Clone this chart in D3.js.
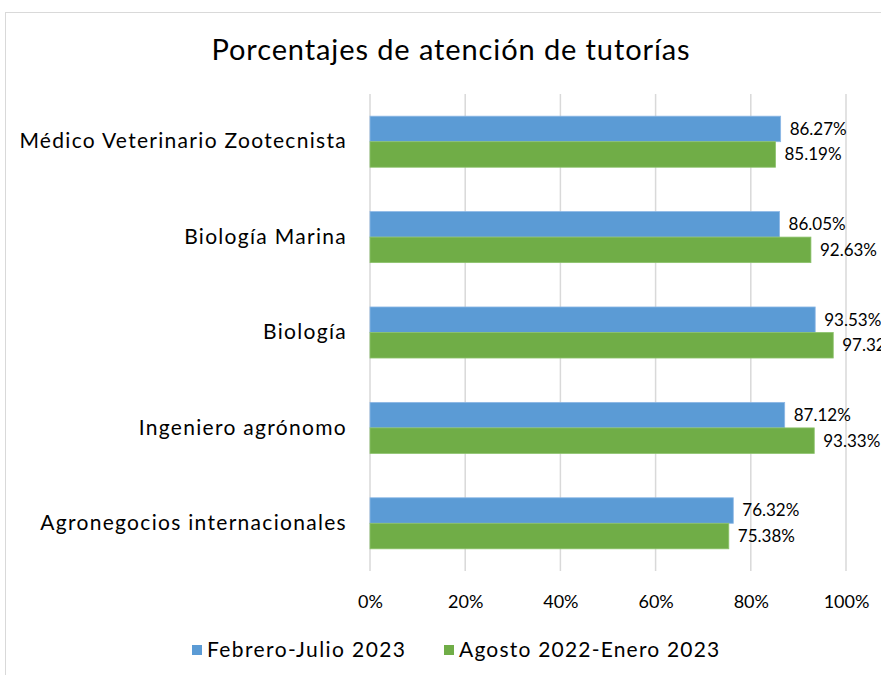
<!DOCTYPE html>
<html lang="es">
<head>
<meta charset="UTF-8">
<title>Porcentajes de atención de tutorías</title>
<script src="https://cdnjs.cloudflare.com/ajax/libs/d3/7.8.5/d3.min.js"></script>
<style>
    body { margin: 0; background: #fff; }
    svg { display: block; font-family: "Lato", "Open Sans", sans-serif; }
</style>
</head>
<body>
<svg id="chart"></svg>
<script>
// data
const categories = [
    "Médico Veterinario Zootecnista",
    "Biología Marina",
    "Biología",
    "Ingeniero agrónomo",
    "Agronegocios internacionales"
];
const seriesNames = ["Febrero-Julio 2023", "Agosto 2022-Enero 2023"];
const febJul2023 = [86.27, 86.05, 93.53, 87.12, 76.32];
const ago2022Ene2023 = [85.19, 92.63, 97.32, 93.33, 75.38];
const xTicks = [0, 20, 40, 60, 80, 100];
const colors = ["#5B9BD5", "#70AD47"];

const W = 881, H = 675;
const margin = {left: 370, right: 35, top: 94, bottom: 104};
const width = 846 - margin.left;
const height = 571 - margin.top;

const svg = d3.select("#chart").attr("width", W).attr("height", H);

// chart border (right / bottom run off the picture)
svg.append("rect")
    .attr("x", 5.5).attr("y", 12.5)
    .attr("width", 900).attr("height", 700)
    .attr("fill", "none")
    .attr("stroke", "#d9d9d9");

svg.append("text")
    .attr("x", 451).attr("y", 60)
    .attr("text-anchor", "middle")
    .style("font-size", "29px")
    .style("letter-spacing", "0.9px")
    .attr("fill", "#000")
    .text("Porcentajes de atención de tutorías");

const g = svg.append("g").attr("transform", `translate(${margin.left},${margin.top})`);

const x = d3.scaleLinear().domain([0, 100]).range([0, width]);
const y = d3.scaleBand().domain(categories).range([0, height])
    .paddingInner(0.465).paddingOuter(0.2325);
const ySub = d3.scaleBand().domain([0, 1]).range([0, y.bandwidth()]);

// gridlines
g.append("g")
    .selectAll("line")
    .data(xTicks)
    .join("line")
    .attr("x1", d => x(d)).attr("x2", d => x(d))
    .attr("y1", 0).attr("y2", height)
    .attr("stroke", "#d9d9d9")
    .attr("stroke-width", 1.5);

// x axis labels
const xAxis = d3.axisBottom(x).tickValues(xTicks).tickFormat(d => d + "%").tickSize(0).tickPadding(24);
g.append("g")
    .attr("transform", `translate(0,${height})`)
    .call(xAxis)
    .call(s => s.select(".domain").remove())
    .selectAll("text")
    .style("font-size", "18px")
    .style("font-family", "Lato, sans-serif")
    .attr("fill", "#000");

// y axis labels
const yAxis = d3.axisLeft(y).tickSize(0).tickPadding(23);
g.append("g")
    .call(yAxis)
    .call(s => s.select(".domain").remove())
    .selectAll("text")
    .style("font-size", "21px")
    .style("letter-spacing", "1.3px")
    .style("font-family", "Lato, sans-serif")
    .attr("fill", "#000");

const series = [febJul2023, ago2022Ene2023];

series.forEach((vals, si) => {
    const rows = categories.map((c, i) => ({c, v: vals[i]}));
    g.append("g")
        .selectAll("rect")
        .data(rows)
        .join("rect")
        .attr("x", 0)
        .attr("y", d => y(d.c) + ySub(si))
        .attr("width", d => x(d.v))
        .attr("height", ySub.bandwidth())
        .attr("fill", colors[si])
        .attr("stroke", si === 0 ? "#8db8e6" : "#8cc26b")
        .attr("stroke-width", 0.8);

    g.append("g")
        .selectAll("text")
        .data(rows)
        .join("text")
        .attr("x", d => x(d.v) + 9)
        .attr("y", d => y(d.c) + ySub(si) + ySub.bandwidth() / 2)
        .attr("dy", "0.35em")
        .style("font-size", "17px")
        .attr("fill", "#000")
        .text(d => d.v.toFixed(2) + "%");
});

// legend
const legend = svg.append("g").attr("transform", "translate(0,650)");
const legendX = [192, 444];
const legendSpacing = ["1.4px", "1.2px"];
seriesNames.forEach((name, i) => {
    legend.append("rect")
        .attr("x", legendX[i]).attr("y", -5)
        .attr("width", 10).attr("height", 10)
        .attr("fill", colors[i]);
    legend.append("text")
        .attr("x", legendX[i] + 15).attr("y", 0)
        .attr("dy", "0.35em")
        .style("font-size", "21px")
        .style("letter-spacing", legendSpacing[i])
        .attr("fill", "#000")
        .text(name);
});
</script>
</body>
</html>
